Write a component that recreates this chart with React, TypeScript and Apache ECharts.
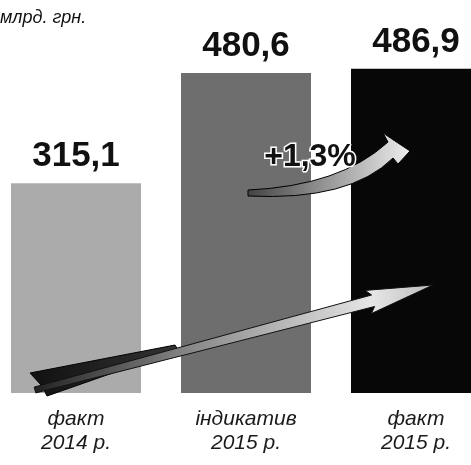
import React, { useEffect, useRef } from 'react';
import * as echarts from 'echarts';

const categories = ['факт\n2014 р.', 'індикатив\n2015 р.', 'факт\n2015 р.'];
const values = [315.1, 480.6, 486.9];
const barColors = ['#ababab', '#6e6e6e', '#070707'];
const unitLabel = 'млрд. грн.';
const growthLabel = '+1,3%';

echarts.graphic.registerShape(
  'curvedArrow',
  echarts.graphic.extendPath(
    'M 248 190 Q 340 186 388 142 L 383 133 L 410 151 L 398 164 L 393 158 Q 350 201 248 196 Z',
    {}
  )
);

const longArrowPts: number[][] = [
  [34.2, 387.1],
  [371.6, 295],
  [365.2, 290.4],
  [433, 285],
  [371.4, 313.6],
  [374.6, 306.5],
  [35.8, 392.9],
];

const tailPts: number[][] = [
  [30, 373],
  [175, 345],
  [178, 350],
  [47, 396],
  [42, 386],
];

export default function App() {
  const ref = useRef<HTMLDivElement>(null);
  useEffect(() => {
    if (!ref.current) return;
    const chart = echarts.init(ref.current, null, { renderer: 'svg' });
    chart.setOption({
      animation: false,
      grid: { left: -9, width: 510, top: 60, bottom: 72, outerBoundsMode: 'none', containLabel: false },
      xAxis: {
        type: 'category',
        data: categories,
        axisLine: { show: false },
        axisTick: { show: false },
        axisLabel: {
          margin: 12,
          fontFamily: 'Liberation Sans, Arial, sans-serif',
          fontStyle: 'italic',
          fontSize: 21,
          lineHeight: 24,
          color: '#1a1a1a',
          interval: 0,
        },
      },
      yAxis: { type: 'value', min: 0, max: 500, show: false },
      series: [
        {
          type: 'bar',
          barWidth: 130,
          data: values.map((v, i) => ({ value: v, itemStyle: { color: barColors[i] } })),
          label: {
            show: true,
            position: 'top',
            distance: 12,
            fontFamily: 'Liberation Sans, Arial, sans-serif',
            fontWeight: 'bold',
            fontSize: 35,
            color: '#111',
            formatter: (p: any) => String(p.value).replace('.', ','),
          },
        },
      ],
      graphic: [
        {
          type: 'text',
          left: 0,
          top: 8,
          style: {
            text: unitLabel,
            font: 'italic 18px "Liberation Sans", Arial, sans-serif',
            fill: '#111',
          },
        },
        {
          type: 'polygon',
          z: 10,
          shape: { points: tailPts },
          style: {
            fill: new echarts.graphic.LinearGradient(0, 0, 1, 0, [
              { offset: 0, color: '#111' },
              { offset: 1, color: '#333' },
            ]),
            stroke: '#000',
            lineWidth: 1,
          },
        },
        {
          type: 'polygon',
          z: 11,
          shape: { points: longArrowPts },
          style: {
            fill: new echarts.graphic.LinearGradient(0, 0, 1, 0, [
              { offset: 0, color: '#222' },
              { offset: 0.4, color: '#8a8a8a' },
              { offset: 0.85, color: '#e6e6e6' },
              { offset: 1, color: '#bbb' },
            ]),
            stroke: '#111',
            lineWidth: 1,
          },
        },
        {
          type: 'curvedArrow',
          z: 10,
          x: 0,
          y: 0,
          style: {
            fill: new echarts.graphic.LinearGradient(0, 0, 1, 0, [
              { offset: 0, color: '#444' },
              { offset: 0.5, color: '#999' },
              { offset: 1, color: '#eee' },
            ]),
            stroke: '#000',
            lineWidth: 1,
          },
        },
        {
          type: 'text',
          z: 12,
          x: 310,
          y: 155,
          style: {
            text: growthLabel,
            font: 'bold 32px "Liberation Sans", Arial, sans-serif',
            fill: '#111',
            stroke: '#fff',
            lineWidth: 3,
            align: 'center',
            verticalAlign: 'middle',
          },
        },
      ],
    });
    return () => chart.dispose();
  }, []);
  return (
    <div
      ref={ref}
      style={{ position: 'fixed', left: 0, top: 0, width: 471, height: 465 }}
    />
  );
}
